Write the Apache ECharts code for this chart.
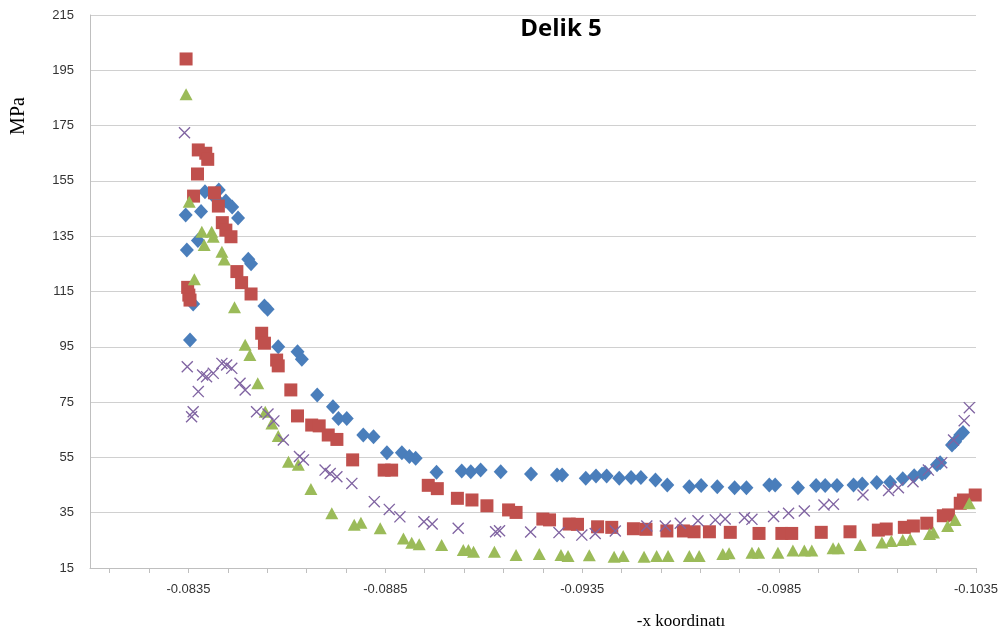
<!DOCTYPE html>
<html>
<head>
<meta charset="utf-8">
<script src="https://cdn.jsdelivr.net/npm/echarts@6/dist/echarts.min.js"></script>
<style>
  html, body { margin: 0; padding: 0; background: #fff; }
  #chart { width: 1006px; height: 640px; }
</style>
</head>
<body>
<div id="chart"></div>
<script>
// Stress (MPa) along the hole edge, four measurement series
const diamondX = [-0.08343, -0.08346, -0.08354, -0.08362, -0.08374, -0.08382, -0.08392, -0.08420, -0.08427, -0.08445, -0.08461, -0.08476,
  -0.08502, -0.08509, -0.08543, -0.08551, -0.08578, -0.08627, -0.08638, -0.08677, -0.08717, -0.08731, -0.08752, -0.08794, -0.08820,
  -0.08854, -0.08892, -0.08911, -0.08927, -0.08980, -0.09044, -0.09067, -0.09092, -0.09143, -0.09220, -0.09286, -0.09299, -0.09359,
  -0.09385, -0.09412, -0.09444, -0.09474, -0.09499, -0.09536, -0.09566, -0.09622, -0.09652, -0.09693, -0.09737, -0.09767, -0.09825,
  -0.09840, -0.09898, -0.09944, -0.09967, -0.09997, -0.10039, -0.10061, -0.10098, -0.10132, -0.10164, -0.10193, -0.10213, -0.10221,
  -0.10251, -0.10259, -0.10289, -0.10297, -0.10310, -0.10317];
const diamondY = [142.7, 130.0, 97.5, 110.5, 133.4, 143.9, 151.1, 148.5, 151.7, 147.7, 145.6, 141.6,
  126.7, 125.0, 109.8, 108.6, 95.0, 93.2, 90.5, 77.6, 73.3, 69.1, 69.1, 63.1, 62.5,
  56.7, 56.7, 55.3, 54.7, 49.6, 50.1, 49.8, 50.4, 49.8, 49.0, 48.6, 48.6, 47.5,
  48.3, 48.3, 47.5, 47.7, 47.7, 46.8, 45.0, 44.4, 44.8, 44.4, 44.0, 44.0, 45.0,
  45.0, 44.0, 44.8, 44.8, 44.8, 45.0, 45.4, 45.9, 46.0, 47.3, 48.4, 49.0, 49.5,
  52.3, 53.1, 59.5, 60.7, 63.1, 64.0];

const squareX = [-0.08344, -0.08348, -0.08351, -0.08354, -0.08363, -0.08373, -0.08375, -0.08394, -0.08399, -0.08416, -0.08426, -0.08436,
  -0.08445, -0.08458, -0.08473, -0.08485, -0.08509, -0.08536, -0.08543, -0.08574, -0.08578, -0.08610, -0.08627, -0.08663, -0.08682,
  -0.08705, -0.08727, -0.08767, -0.08847, -0.08866, -0.08959, -0.08982, -0.09033, -0.09070, -0.09108, -0.09163, -0.09182, -0.09250,
  -0.09267, -0.09317, -0.09338, -0.09389, -0.09425, -0.09480, -0.09512, -0.09565, -0.09607, -0.09634, -0.09673, -0.09726, -0.09799,
  -0.09857, -0.09882, -0.09957, -0.10030, -0.10102, -0.10122, -0.10168, -0.10191, -0.10225, -0.10267, -0.10280, -0.10310, -0.10318,
  -0.10348];
const squareY = [199.1, 116.5, 113.7, 111.9, 149.5, 157.5, 166.2, 165.0, 162.8, 150.7, 145.9, 139.9,
  137.2, 134.8, 122.2, 118.2, 114.1, 99.9, 96.3, 90.2, 88.1, 79.4, 70.0, 66.7, 66.4,
  63.1, 61.5, 54.1, 50.4, 50.4, 44.9, 43.7, 40.2, 39.6, 37.5, 36.0, 35.1, 32.7,
  32.4, 30.9, 30.8, 29.9, 29.7, 29.2, 29.0, 28.4, 28.4, 28.1, 28.1, 27.9, 27.5,
  27.5, 27.5, 27.9, 28.1, 28.7, 29.1, 29.7, 30.2, 31.2, 33.9, 34.2, 38.4, 39.6,
  41.4];

const triangleX = [-0.08344, -0.08352, -0.08365, -0.08384, -0.08390, -0.08409, -0.08413, -0.08435, -0.08441, -0.08467, -0.08494, -0.08506,
  -0.08526, -0.08545, -0.08562, -0.08578, -0.08604, -0.08629, -0.08661, -0.08714, -0.08771, -0.08788, -0.08837, -0.08896, -0.08917,
  -0.08936, -0.08993, -0.09048, -0.09061, -0.09074, -0.09127, -0.09182, -0.09241, -0.09296, -0.09314, -0.09368, -0.09431, -0.09454,
  -0.09507, -0.09539, -0.09568, -0.09622, -0.09647, -0.09707, -0.09723, -0.09781, -0.09798, -0.09847, -0.09885, -0.09914, -0.09933,
  -0.09987, -0.10001, -0.10056, -0.10111, -0.10135, -0.10164, -0.10183, -0.10232, -0.10242, -0.10278, -0.10297, -0.10333];
const triangleY = [186.3, 147.5, 119.4, 136.6, 131.8, 136.6, 134.8, 129.4, 126.6, 109.3, 95.7, 92.0,
  81.8, 71.5, 67.3, 62.7, 53.4, 52.3, 43.6, 34.8, 30.6, 31.4, 29.4, 25.7, 24.1,
  23.6, 23.3, 21.5, 21.5, 20.9, 20.9, 19.7, 20.1, 19.7, 19.3, 19.6, 19.1, 19.3,
  19.1, 19.3, 19.3, 19.3, 19.3, 20.1, 20.3, 20.5, 20.5, 20.5, 21.3, 21.3, 21.3,
  22.1, 22.1, 23.3, 24.2, 24.8, 25.1, 25.4, 27.3, 27.8, 30.2, 32.4, 38.4];

const crossX = [-0.08340, -0.08347, -0.08358, -0.08362, -0.08375, -0.08386, -0.08396, -0.08413, -0.08435, -0.08447, -0.08460, -0.08481,
  -0.08494, -0.08523, -0.08552, -0.08567, -0.08591, -0.08632, -0.08642, -0.08697, -0.08710, -0.08727, -0.08765, -0.08822, -0.08860,
  -0.08887, -0.08948, -0.08969, -0.09035, -0.09130, -0.09140, -0.09219, -0.09291, -0.09349, -0.09383, -0.09434, -0.09514, -0.09561,
  -0.09599, -0.09644, -0.09688, -0.09713, -0.09762, -0.09781, -0.09836, -0.09874, -0.09914, -0.09964, -0.09988, -0.10063, -0.10128,
  -0.10153, -0.10190, -0.10229, -0.10263, -0.10293, -0.10320, -0.10333];
const crossY = [172.4, 87.8, 69.7, 71.5, 78.8, 84.8, 84.2, 85.4, 89.0, 88.4, 87.2, 81.8,
  79.4, 71.5, 70.7, 68.2, 61.3, 55.3, 54.1, 50.4, 49.2, 48.0, 45.6, 39.0, 36.2,
  33.5, 31.7, 30.9, 29.4, 28.1, 28.5, 28.0, 27.8, 26.9, 27.5, 28.4, 30.2, 30.2,
  31.2, 32.1, 32.4, 32.7, 33.2, 32.6, 33.6, 34.8, 35.6, 37.8, 38.1, 41.4, 43.0,
  44.0, 46.2, 50.4, 53.1, 61.3, 68.3, 73.0];

// Axis ticks and labels
const xTickValues = [-0.1035, -0.1025, -0.1015, -0.1005, -0.0995, -0.0985, -0.0975, -0.0965, -0.0955, -0.0945, -0.0935,
  -0.0925, -0.0915, -0.0905, -0.0895, -0.0885, -0.0875, -0.0865, -0.0855, -0.0845, -0.0835, -0.0825, -0.0815];
const xLabelValues = [-0.0835, -0.0885, -0.0935, -0.0985, -0.1035];
const yTickValues = [15, 35, 55, 75, 95, 115, 135, 155, 175, 195, 215];

const pairs = (xs, ys) => xs.map((x, i) => [x, ys[i]]);

const crossPath = 'path://M0,0.8L0.8,0L10,9.2L9.2,10ZM9.2,0L10,0.8L0.8,10L0,9.2Z';

const chart = echarts.init(document.getElementById('chart'), null, { renderer: 'canvas' });
chart.setOption({
  animation: false,
  backgroundColor: '#ffffff',
  grid: { left: 90, right: 30, top: 15, bottom: 72, containLabel: false },
  xAxis: {
    type: 'value',
    inverse: true,
    min: -0.1035,
    max: -0.081,
    axisLine: { show: true, lineStyle: { color: '#bfbfbf', width: 1 } },
    axisTick: { show: true, inside: false, length: 5, customValues: xTickValues, lineStyle: { color: '#bfbfbf' } },
    axisLabel: {
      customValues: xLabelValues,
      formatter: v => v.toFixed(4),
      color: '#333333',
      fontFamily: 'Liberation Sans',
      fontSize: 13,
      margin: 15
    },
    splitLine: { show: false }
  },
  yAxis: {
    type: 'value',
    min: 15,
    max: 215,
    axisLine: { show: true, lineStyle: { color: '#bfbfbf', width: 1 } },
    axisTick: { show: false, customValues: yTickValues },
    axisLabel: {
      customValues: yTickValues,
      color: '#333333',
      fontFamily: 'Liberation Sans',
      fontSize: 13,
      margin: 16
    },
    splitLine: { show: true, lineStyle: { color: '#d0d0d0', width: 1 } }
  },
  series: [
    {
      name: 'Seri 1', type: 'scatter', symbol: 'diamond', symbolSize: [14, 15],
      itemStyle: { color: '#4a7ebb', opacity: 1 }, data: pairs(diamondX, diamondY)
    },
    {
      name: 'Seri 2', type: 'scatter', symbol: 'rect', symbolSize: 13,
      itemStyle: { color: '#c0504d', opacity: 1 }, data: pairs(squareX, squareY)
    },
    {
      name: 'Seri 3', type: 'scatter', symbol: 'triangle', symbolSize: [13, 12],
      itemStyle: { color: '#9bbb59', opacity: 1 }, data: pairs(triangleX, triangleY)
    },
    {
      name: 'Seri 4', type: 'scatter', symbol: crossPath, symbolSize: 12,
      itemStyle: { color: '#8064a2', opacity: 1 }, data: pairs(crossX, crossY)
    }
  ],
  graphic: [
    {
      type: 'text', x: 561, y: 29,
      style: { text: 'Delik 5', font: 'bold 24px "Open Sans"', fill: '#000', textAlign: 'center', textVerticalAlign: 'middle' }
    },
    {
      type: 'text', x: 19, y: 116, rotation: Math.PI / 2,
      style: { text: 'MPa', font: '20px "Liberation Serif"', fill: '#000', textAlign: 'center', textVerticalAlign: 'middle' }
    },
    {
      type: 'text', x: 681, y: 622,
      style: { text: '-x koordinatı', font: '17px "Liberation Serif"', fill: '#000', textAlign: 'center', textVerticalAlign: 'middle' }
    }
  ]
});
</script>
</body>
</html>
